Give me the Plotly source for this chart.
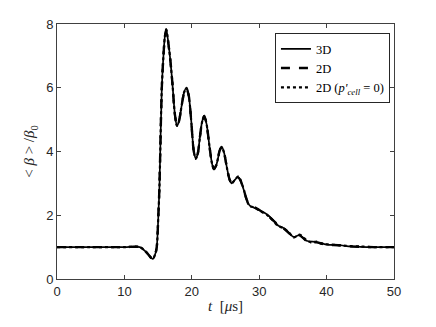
import plotly.graph_objects as go

# time [us] and normalised mean beta for each run
t_3d = [0, 5, 10, 12.3, 13.2, 14.2, 14.6, 14.8, 15.05, 15.2, 15.55, 15.85, 16.0, 16.2, 16.4, 16.8, 17.1, 17.5, 17.8, 18.1,
        18.5, 18.85, 19.2, 19.55, 19.9, 20.3, 20.6, 20.9, 21.2, 21.5, 21.85, 22.2, 22.6, 23.0, 23.3, 23.6,
        23.9, 24.15, 24.45, 24.8, 25.2, 25.6, 25.9, 26.2, 26.6, 26.9, 27.2, 27.7, 28.2, 28.6, 29.6, 30.6,
        31.6, 32.8, 33.8, 35.1, 36.0, 37.0, 38.5, 40.0, 41.7, 43, 45, 47, 50]
beta_3d = [1, 1, 1, 1, 0.85, 0.63, 0.8, 1.0, 2.06, 2.9, 6.0, 7.2, 7.6, 7.84, 7.6, 6.9, 6.2, 5.15, 4.8, 4.95,
           5.45, 5.85, 6.0, 5.75, 5.0, 4.0, 3.78, 3.95, 4.45, 4.9, 5.13, 4.85, 4.2, 3.62, 3.44, 3.55,
           3.8, 4.05, 4.15, 3.95, 3.5, 3.12, 3.0, 3.06, 3.16, 3.2, 3.1, 2.8, 2.45, 2.3, 2.2, 2.1,
           1.95, 1.68, 1.58, 1.32, 1.38, 1.2, 1.16, 1.08, 1.07, 1.03, 1.01, 1.0, 1.0]

t_2d = t_3d
beta_2d = [1, 1, 1, 1, 0.85, 0.63, 0.8, 1.0, 2.06, 2.9, 6.0, 7.2, 7.58, 7.82, 7.58, 6.9, 6.2, 5.15, 4.82, 4.96,
           5.45, 5.83, 5.98, 5.75, 5.0, 4.0, 3.79, 3.95, 4.45, 4.88, 5.11, 4.85, 4.2, 3.63, 3.45, 3.56,
           3.8, 4.04, 4.13, 3.95, 3.5, 3.13, 3.02, 3.07, 3.15, 3.18, 3.1, 2.8, 2.46, 2.32, 2.22, 2.08,
           1.93, 1.7, 1.56, 1.33, 1.37, 1.2, 1.15, 1.08, 1.06, 1.03, 1.01, 1.0, 1.0]

t_2d_p0 = [0, 5, 10, 12.3, 13.2, 14.2, 14.6, 14.8, 15.05, 15.2, 15.55, 15.85, 16.0, 16.2, 16.4, 16.8, 17.1, 17.5, 17.8, 18.1,
           18.5, 18.85, 19.2, 19.55, 19.9, 20.3, 20.6, 20.9, 21.2, 21.5, 21.85, 22.2, 22.6, 23.0, 23.3, 23.6,
           23.9, 24.15, 24.45, 24.8, 25.2, 25.6, 25.9, 26.2, 26.6, 26.9, 27.2, 27.7, 28.2, 28.6, 29.1, 29.6,
           30.1, 30.6, 31.1, 31.6, 32.2, 32.8, 33.3, 33.8, 34.5, 35.1, 36.0, 37.0, 37.8, 38.5, 39.3, 40.0,
           41.7, 43, 45, 47, 50]
beta_2d_p0 = [1, 1, 1, 1, 0.85, 0.63, 0.8, 1.0, 2.06, 2.9, 6.0, 7.2, 7.6, 7.83, 7.6, 6.9, 6.2, 5.15, 4.8, 4.95,
              5.45, 5.85, 6.0, 5.75, 5.0, 4.0, 3.77, 3.95, 4.45, 4.9, 5.12, 4.85, 4.2, 3.62, 3.44, 3.55,
              3.8, 4.05, 4.14, 3.95, 3.5, 3.12, 3.0, 3.06, 3.17, 3.22, 3.12, 2.82, 2.44, 2.28, 2.26, 2.2,
              2.14, 2.08, 2.02, 1.93, 1.8, 1.66, 1.62, 1.56, 1.44, 1.3, 1.39, 1.22, 1.14, 1.17, 1.1, 1.09,
              1.06, 1.04, 1.02, 1.0, 1.0]

fig = go.Figure()
fig.add_trace(go.Scatter(x=t_3d, y=beta_3d, mode="lines", name="3D",
                         line=dict(color="black", width=1.7, shape="spline", smoothing=0.8)))
fig.add_trace(go.Scatter(x=t_2d, y=beta_2d, mode="lines", name="2D",
                         line=dict(color="black", width=2.4, dash="dash", shape="spline", smoothing=0.8)))
fig.add_trace(go.Scatter(x=t_2d_p0, y=beta_2d_p0, mode="lines",
                         name="2D (<i>p'</i><sub><i>cell</i></sub> = 0)",
                         line=dict(color="black", width=2.2, dash="dot", shape="spline", smoothing=0.8)))

axis_style = dict(showline=True, linecolor="#404040", linewidth=1, mirror="ticks",
                  ticks="inside", ticklen=4, tickcolor="#404040", showgrid=False,
                  zeroline=False, automargin=False,
                  tickfont=dict(family="Liberation Sans, Arial", size=13, color="#262626"))

# page body adds an 8px offset, so margins are trimmed to compensate
fig.update_layout(
    width=436, height=327,
    margin=dict(l=49, r=50, t=16, b=56),
    plot_bgcolor="white", paper_bgcolor="white",
    xaxis=dict(range=[0, 50], dtick=10,
               title=dict(text="<i>t</i>  [<i>μ</i>s]", standoff=2,
                          font=dict(family="Liberation Serif, serif", size=15, color="#262626")),
               **axis_style),
    yaxis=dict(range=[0, 8], dtick=2,
               title=dict(text="< <i>β</i> > /<i>β</i><sub>0</sub>", standoff=7,
                          font=dict(family="Liberation Serif, serif", size=15, color="#262626")),
               **axis_style),
    legend=dict(x=0.988, xanchor="right", y=0.964, yanchor="top",
                bgcolor="white", bordercolor="#262626", borderwidth=1,
                font=dict(family="Liberation Serif, serif", size=12.5, color="black"),
                tracegroupgap=0, itemwidth=30),
    showlegend=True,
)

fig.write_html("out.html")
